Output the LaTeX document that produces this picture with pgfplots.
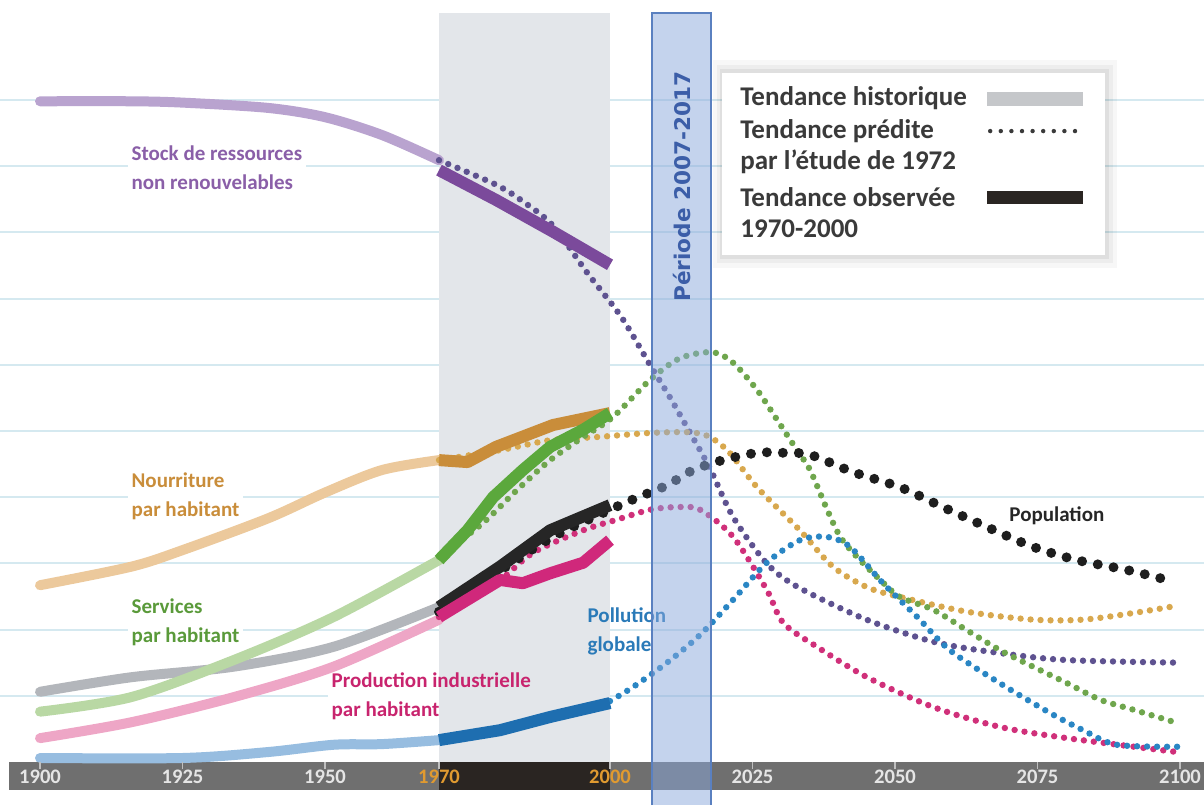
\documentclass[border=0pt]{standalone}
\usepackage{pgfplots}
\pgfplotsset{compat=1.18}
\usepackage{fontspec}
\setmainfont{Carlito}
\newfontfamily\dejavu{DejaVu Sans}

\definecolor{gridblue}{HTML}{D5E9F0}
\definecolor{histband}{HTML}{E3E6EA}
\definecolor{barGray}{HTML}{6F6F6F}
\definecolor{barBlack}{HTML}{2A2522}
\definecolor{bandBlue}{HTML}{8AA8DC}
\definecolor{bandEdge}{HTML}{5A80C0}
\definecolor{periodTxt}{HTML}{3C5EA8}
\definecolor{legTxt}{HTML}{3A3A3A}
\definecolor{tickOrange}{HTML}{E09A30}
% ressources
\definecolor{resH}{HTML}{B9A3CF}
\definecolor{resO}{HTML}{7B4A9B}
\definecolor{resP}{HTML}{5E5290}
\definecolor{resL}{HTML}{8A5FA8}
% nourriture
\definecolor{fooH}{HTML}{ECC99C}
\definecolor{fooO}{HTML}{C98D3A}
\definecolor{fooP}{HTML}{D8A84E}
% services
\definecolor{serH}{HTML}{B9D8A4}
\definecolor{serO}{HTML}{5BA83C}
\definecolor{serP}{HTML}{6FA64D}
\definecolor{serL}{HTML}{5A9A3A}
% population
\definecolor{popH}{HTML}{B3B6BB}
\definecolor{popO}{HTML}{262626}
\definecolor{popP}{HTML}{1E1E1E}
% production
\definecolor{indH}{HTML}{EEA6C6}
\definecolor{indO}{HTML}{D0287B}
\definecolor{indP}{HTML}{D0307A}
\definecolor{indL}{HTML}{C8246E}
% pollution
\definecolor{polH}{HTML}{97BDE0}
\definecolor{polO}{HTML}{1E6EB0}
\definecolor{polP}{HTML}{2A86C4}
\definecolor{polL}{HTML}{2A7AB8}

\tikzset{
  lbl/.style={font=\bfseries\fontsize{10.5}{14.5}\selectfont, align=left, anchor=west, inner sep=2pt},
  mask/.style={lbl, fill=white, text opacity=0},
  leg/.style={font=\bfseries\fontsize{13.5}{15}\selectfont, text=legTxt, anchor=west, inner sep=0pt},
  tk/.style={font=\bfseries\fontsize{10.3}{12}\selectfont, text=white!90!black, inner sep=0pt},
}

\begin{document}
\begin{tikzpicture}
\begin{axis}[
  width=602pt, height=402.5pt, scale only axis,
  xmin=1892.98, xmax=2104.21, ymin=-0.65, ymax=11.51,
  axis line style={draw=none},
  xtick=\empty, ytick={1,...,10}, yticklabels={},
  tick style={draw=none},
  ymajorgrids, major grid style={draw=gridblue, line width=1pt},
  no markers,
  hist/.style={line width=5pt, smooth, tension=0.5, line cap=round},
  obs/.style={line width=6pt, line join=round},
  pred/.style={line width=3.2pt, smooth, tension=0.5, line cap=round, dash pattern=on 0pt off 5pt},
]

% les etiquettes coupent le quadrillage
\node[mask] at (axis cs:1915.3,8.98) {Stock de ressources\\non renouvelables};
\node[mask] at (axis cs:1915.3,4.02) {Nourriture\\par habitant};
\node[mask] at (axis cs:1915.3,2.11) {Services\\par habitant};
\node[mask] at (axis cs:1950.4,1.00) {Production industrielle\\par habitant};

% periode historique + bandeau des annees
\fill[histband] (axis cs:1970,0) rectangle (axis cs:2000,11.31);
\fill[barGray] (axis cs:1894.56,0) rectangle (axis cs:2104.21,-0.42);
\fill[barBlack] (axis cs:1970,0) rectangle (axis cs:2000,-0.42);

% etiquettes des courbes
\node[lbl, text=resL] at (axis cs:1915.3,8.98) {Stock de ressources\\non renouvelables};
\node[lbl, text=fooO] at (axis cs:1915.3,4.02) {Nourriture\\par habitant};
\node[lbl, text=serL] at (axis cs:1915.3,2.11) {Services\\par habitant};
\node[lbl, text=indL] at (axis cs:1950.4,1.00) {Production industrielle\\par habitant};
\node[lbl, text=polL] at (axis cs:1995.3,1.98) {Pollution\\globale};
\node[lbl, text=popO] at (axis cs:2069.3,3.72) {Population};

% tendance historique
\addplot[hist, resH] coordinates {(1900,9.98)(1916,9.98)(1925,9.96)(1940,9.88)(1950,9.74)(1960,9.47)(1970,9.09)};
\addplot[hist, fooH] coordinates {(1900,2.67)(1916,2.95)(1925,3.20)(1940,3.68)(1950,4.07)(1960,4.41)(1970,4.56)};
\addplot[hist, popH] coordinates {(1900,1.06)(1916,1.28)(1934,1.44)(1951.5,1.74)(1970,2.34)};
\addplot[hist, serH] coordinates {(1900,0.76)(1916,0.98)(1934,1.54)(1951.5,2.19)(1970,3.05)};
\addplot[hist, indH] coordinates {(1900,0.36)(1916,0.60)(1934,0.98)(1951.5,1.44)(1970,2.15)};
\addplot[hist, polH] coordinates {(1900,0.06)(1925,0.06)(1940,0.15)(1951.5,0.26)(1960,0.27)(1970,0.33)};

% tendance predite (1972)
\addplot[pred, resP] coordinates {(1970,9.09)(1980,8.72)(1985,8.45)(1990,8.10)(1996,7.39)(2002,6.72)(2007,6.00)(2010.5,5.51)(2014,4.98)(2017.5,4.44)(2021.6,3.70)(2027.5,3.00)(2033,2.64)(2045,2.15)(2057,1.81)(2068,1.65)(2080,1.54)(2100,1.50)};
\addplot[pred, fooP] coordinates {(1970,4.56)(1980.7,4.71)(1989.5,4.86)(1998,4.91)(2007,4.97)(2014,4.98)(2017.5,4.91)(2021,4.67)(2025.8,4.15)(2033.3,3.50)(2039.1,2.95)(2045.1,2.64)(2051,2.49)(2062.6,2.27)(2074.2,2.15)(2083,2.15)(2091.8,2.25)(2099.5,2.36)};
\addplot[pred, serP] coordinates {(1970,3.10)(1977.7,3.61)(1983.7,4.11)(1989.5,4.56)(1995.3,4.91)(2000.5,5.21)(2007,5.77)(2012.3,6.10)(2018,6.19)(2021.6,6.03)(2025.8,5.62)(2029.3,5.17)(2032.8,4.71)(2035.1,4.41)(2038.1,3.81)(2040.4,3.40)(2043.3,3.10)(2047.4,2.75)(2050.9,2.49)(2056.7,2.30)(2062.6,1.99)(2068.4,1.69)(2074.2,1.44)(2080.2,1.19)(2086,0.94)(2091.8,0.79)(2099.5,0.59)};
\addplot[pred, indP] coordinates {(1970,2.19)(1980,2.70)(1986.5,3.16)(1995.3,3.50)(2001.2,3.66)(2007,3.81)(2011.8,3.85)(2015.8,3.81)(2021.6,3.40)(2027.5,2.60)(2030.4,2.10)(2036.3,1.74)(2045.1,1.28)(2056.7,0.83)(2068.4,0.53)(2080.2,0.36)(2099.5,0.15)};
\addplot[pred, polP] coordinates {(2000,0.92)(2004,1.13)(2010,1.50)(2015.8,1.92)(2021.6,2.45)(2027.5,3.01)(2033.3,3.35)(2038,3.40)(2042.1,3.25)(2047.9,2.70)(2053.9,2.19)(2059.6,1.69)(2068.4,1.19)(2077.2,0.74)(2083,0.48)(2088.9,0.26)(2099.5,0.23)};
\addplot[pred, popP, line width=5pt, dash pattern=on 0pt off 8pt] coordinates {(1970,2.27)(1980,2.85)(1990,3.40)(2000,3.81)(2004.7,3.99)(2010,4.18)(2014.6,4.41)(2019.8,4.56)(2025.8,4.67)(2030.4,4.67)(2035.1,4.64)(2042.6,4.38)(2050.9,4.15)(2058.4,3.85)(2066.1,3.55)(2074.2,3.25)(2081.9,3.05)(2090.7,2.90)(2099.1,2.72)};

% tendance observee 1970-2000
\addplot[obs, resO] coordinates {(1970,8.94)(1980,8.49)(1990,8.01)(2000,7.51)};
\addplot[obs, fooO] coordinates {(1970,4.56)(1975,4.53)(1980,4.76)(1990,5.09)(2000,5.27)};
\addplot[obs, serO] coordinates {(1970,3.05)(1975,3.50)(1979.5,4.00)(1984.7,4.41)(1989.5,4.76)(1995.3,5.02)(2000,5.27)};
\addplot[obs, popO] coordinates {(1970,2.34)(1980.7,2.95)(1989.5,3.50)(2000,3.88)};
\addplot[obs, indO] coordinates {(1970,2.19)(1980.7,2.75)(1984.7,2.70)(1989.5,2.85)(1995.3,3.01)(2000,3.35)};
\addplot[obs, polO] coordinates {(1970,0.33)(1980.7,0.48)(1989.5,0.68)(2000,0.89)};

% periode 2007-2017
\fill[bandBlue, fill opacity=0.5] (axis cs:2007.4,-0.65) rectangle (axis cs:2017.7,11.31);
\draw[bandEdge, line width=0.8pt] (axis cs:2007.4,-0.65) -- (axis cs:2007.4,11.31) -- (axis cs:2017.7,11.31) -- (axis cs:2017.7,-0.65);
\node[rotate=90, font=\dejavu\bfseries\fontsize{10.8}{12}\selectfont, text=periodTxt] at (axis cs:2012.6,8.69) {Période 2007-2017};

% legende
\fill[black, opacity=0.03] (axis cs:2018.1,10.60) rectangle (axis cs:2089.0,7.46);
\fill[black, opacity=0.04] (axis cs:2018.77,10.53) rectangle (axis cs:2088.2,7.53);
\fill[black, opacity=0.06] (axis cs:2019.30,10.47) rectangle (axis cs:2087.5,7.60);
\fill[white] (axis cs:2019.65,10.41) rectangle (axis cs:2086.84,7.66);
\node[leg] at (axis cs:2022.8,10.02) {Tendance historique};
\node[leg] at (axis cs:2022.8,9.53) {Tendance prédite};
\node[leg] at (axis cs:2022.8,9.06) {par l’étude de 1972};
\node[leg] at (axis cs:2022.8,8.53) {Tendance observée};
\node[leg] at (axis cs:2022.8,8.05) {1970-2000};
\fill[histband!70!gray] (axis cs:2066.14,10.12) rectangle (axis cs:2082.98,9.91);
\draw[legTxt, line width=2.2pt, line cap=round, dash pattern=on 0pt off 5.3pt] (axis cs:2066.7,9.53) -- (axis cs:2082.1,9.53);
\fill[barBlack] (axis cs:2066.14,8.63) rectangle (axis cs:2082.98,8.43);

% graduations du bandeau
\foreach \yr in {1900,1925,1950,1970,2000,2025,2050,2075,2100}{
  \edef\tmp{\noexpand\draw[white!75!black, line width=0.6pt] (axis cs:\yr,0) -- (axis cs:\yr,-0.1);}\tmp
}
\node[tk] at (axis cs:1900,-0.22) {1900};
\node[tk] at (axis cs:1925,-0.22) {1925};
\node[tk] at (axis cs:1950,-0.22) {1950};
\node[tk, text=tickOrange] at (axis cs:1970,-0.22) {1970};
\node[tk, text=tickOrange] at (axis cs:2000,-0.22) {2000};
\node[tk] at (axis cs:2025,-0.22) {2025};
\node[tk] at (axis cs:2050,-0.22) {2050};
\node[tk] at (axis cs:2075,-0.22) {2075};
\node[tk] at (axis cs:2100,-0.22) {2100};
\end{axis}
\pgfresetboundingbox
\useasboundingbox (current axis.south west) rectangle (current axis.north east);
\end{tikzpicture}
\end{document}
